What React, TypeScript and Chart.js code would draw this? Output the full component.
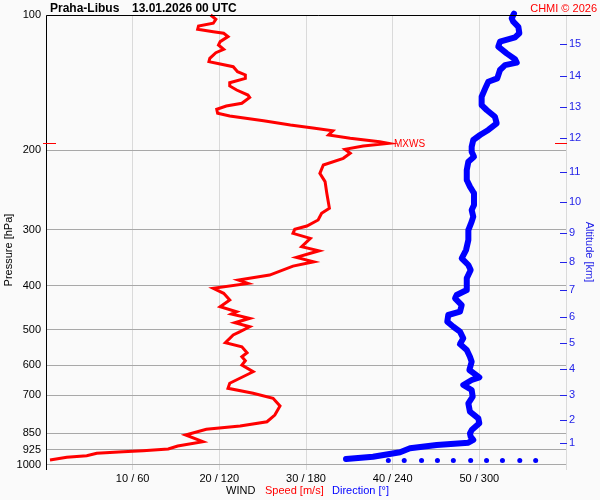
import React, { useEffect, useRef } from 'react';
import { Chart, registerables } from 'chart.js';

Chart.register(...registerables);

const FONT = '"Liberation Sans", Arial, Helvetica, sans-serif';

const stationName = 'Praha-Libus';
const launchTime = '13.01.2026 00 UTC';
const copyright = 'CHMI © 2026';
const leftTitle = 'Pressure [hPa]';
const rightTitle = 'Altitude [km]';
const bottomTitleParts = ['WIND', 'Speed [m/s]', 'Direction [°]'];

const pressureTicks = [100, 200, 300, 400, 500, 600, 700, 850, 925, 1000];
const speedTicks = [0, 10, 20, 30, 40, 50, 60];
const speedTickLabels = ['', '10 / 60', '20 / 120', '30 / 180', '40 / 240', '50 / 300', ''];
const altitudeKm = [1, 2, 3, 4, 5, 6, 7, 8, 9, 10, 11, 12, 13, 14, 15];
const altitudePressure = [895, 794, 699, 612, 536, 468, 408.5, 353.4, 304.7, 260.3, 222.9, 187.7, 160.4, 136.4, 116.2];

// Wind speed profile [m/s] vs pressure [hPa]
const speedPressure = [
  100, 102.2, 104.3, 105.8, 107.6, 108.9, 109.8, 111.7, 114.6, 116.6,
  119.2, 121.3, 124.8, 127.0, 128.5, 130.3, 133.7, 135.9, 138.3, 141.4,
  143.8, 146.8, 150.6, 152.4, 157.1, 159.3, 162.0, 165.4, 167.7, 171.8,
  175.6, 178.3, 180.8, 184.8, 187.9, 191.3, 192.9, 195.5, 198.8, 202.9,
  208.2, 215.4, 224.8, 234.6, 248.9, 268.9, 275.9, 285.5, 294.4, 299.5,
  305.7, 313.6, 327.4, 334.2, 345.6, 353.5, 361.4, 378.4, 388.2, 394.8,
  405.0, 415.5, 429.9, 444.9, 456.4, 461.8, 472.1, 482.9, 492.9, 505.6,
  514.2, 534.9, 546.0, 563.0, 574.6, 586.5, 599.6, 620.5, 658.3, 675.5,
  693.0, 711.0, 739.6, 774.4, 801.4, 819.2, 833.2, 857.7, 887.7, 907.6,
  921.3, 929.4, 934.2, 941.9, 953.4, 961.3, 974.8,
];
const speedValues = [
  19.0, 19.6, 19.3, 17.6, 17.5, 19.3, 20.5, 21.0, 20.1, 19.9,
  20.5, 19.6, 18.9, 18.8, 20.1, 21.6, 22.1, 23.0, 23.0, 21.2,
  21.2, 22.0, 23.3, 23.5, 22.6, 20.8, 19.7, 19.8, 21.2, 25.1,
  28.2, 30.8, 33.1, 32.6, 35.1, 38.5, 39.5, 36.6, 34.5, 35.1,
  34.3, 32.0, 31.6, 32.2, 32.4, 32.7, 31.8, 31.4, 30.1, 28.7,
  28.5, 30.5, 29.5, 31.5, 28.9, 30.9, 28.5, 25.8, 22.2, 23.3,
  19.3, 20.5, 21.2, 20.1, 22.0, 21.4, 23.5, 21.8, 23.5, 22.4,
  21.6, 20.7, 22.6, 23.2, 22.6, 23.0, 22.6, 23.9, 21.2, 21.0,
  23.9, 26.2, 27.0, 26.4, 25.5, 22.4, 18.5, 16.1, 18.1, 15.2,
  14.1, 11.2, 8.9, 5.85, 4.7, 2.4, 0.46,
];

// Wind direction profile [deg] vs pressure [hPa]
const dirPressure = [
  99.3, 101.7, 103.5, 106.2, 109.8, 112.1, 114.6, 117.6, 121.7, 125.4,
  127.6, 129.2, 132.5, 138.3, 140.7, 144.3, 151.9, 158.5, 162.6, 168.3,
  174.1, 180.1, 184.8, 189.6, 196.2, 201.3, 206.5, 211.8, 221.0, 232.6,
  240.7, 248.9, 264.4, 271.3, 280.7, 288.0, 300.5, 316.2, 332.9, 347.3,
  359.4, 368.7, 384.7, 408.5, 419.1, 426.3, 441.2, 456.4, 464.2, 480.3,
  492.9, 505.6, 523.0, 538.5, 555.3, 574.6, 589.5, 615.1, 638.5, 647.4,
  664.2, 681.4, 705.2, 729.5, 761.4, 787.5, 807.9, 836.2, 850.6, 865.4,
  879.9, 892.1, 902.7, 918.3, 937.2, 958.5, 969.8,
];
const dirValues = [
  324.0, 322.4, 323.5, 327.0, 327.7, 324.7, 314.3, 313.1, 318.9, 324.7,
  325.9, 317.8, 314.3, 312.4, 306.2, 304.6, 301.6, 301.6, 305.1, 310.8,
  312.0, 306.2, 300.5, 295.8, 294.7, 294.7, 296.3, 292.4, 291.3, 291.3,
  293.5, 296.3, 296.3, 294.7, 295.8, 294.7, 292.4, 292.4, 290.8, 287.8,
  292.4, 294.0, 291.3, 291.3, 284.3, 283.2, 287.8, 286.6, 278.5, 277.8,
  282.0, 286.6, 288.9, 286.6, 291.3, 293.5, 294.7, 293.1, 300.0, 294.7,
  288.9, 294.7, 295.4, 292.4, 293.5, 299.3, 300.0, 294.7, 293.5, 294.0,
  295.8, 292.4, 270.5, 252.0, 245.1, 226.4, 207.7,
];

// Dotted row near the surface
const surfaceDotPressure = 977;
const surfaceDotDirections = [237, 248, 260, 271, 282, 294, 305, 316, 328, 339];

// Maximum wind level
const maxWindPressure = 192.9;
const maxWindLabel = 'MXWS';

const RED = '#ff0000';
const BLUE = '#0000ff';
const TICK_BLUE = '#2323e8';

const decorPlugin = {
  id: 'decor',
  beforeDraw(chart: any) {
    const ctx = chart.ctx;
    ctx.save();
    ctx.fillStyle = '#fafafa';
    ctx.fillRect(0, 0, chart.width, chart.height);
    ctx.restore();
  },
  afterDraw(chart: any) {
    const { ctx, chartArea: a, scales } = chart;
    ctx.save();
    // axis frame: left and top
    ctx.strokeStyle = '#000';
    ctx.lineWidth = 1;
    ctx.beginPath();
    const lx = Math.round(a.left) + 0.5;
    const ty = Math.round(a.top) + 0.5;
    ctx.moveTo(lx, Math.round(a.bottom));
    ctx.lineTo(lx, ty);
    ctx.lineTo(591, ty);
    ctx.stroke();

    // altitude tick marks (inside)
    ctx.strokeStyle = TICK_BLUE;
    ctx.beginPath();
    altitudePressure.forEach((p) => {
      const y = Math.round(scales.y2.getPixelForValue(p)) + 0.5;
      ctx.moveTo(a.right - 6, y);
      ctx.lineTo(a.right + 1, y);
    });
    ctx.stroke();

    // max wind marks
    const my = Math.round(scales.y.getPixelForValue(maxWindPressure)) + 0.5;
    ctx.strokeStyle = RED;
    ctx.beginPath();
    ctx.moveTo(a.left - 3, my);
    ctx.lineTo(a.left + 10, my);
    ctx.moveTo(a.right - 11, my);
    ctx.lineTo(a.right + 1, my);
    ctx.stroke();
    ctx.fillStyle = RED;
    ctx.font = `10px ${FONT}`;
    ctx.textAlign = 'left';
    ctx.textBaseline = 'middle';
    ctx.fillText(maxWindLabel, 394, my + 1);

    // header
    ctx.textBaseline = 'alphabetic';
    ctx.fillStyle = '#000';
    ctx.font = `bold 12px ${FONT}`;
    ctx.fillText(stationName, 50, 12);
    ctx.fillText(launchTime, 132, 12);
    ctx.fillStyle = RED;
    ctx.font = `11px ${FONT}`;
    ctx.textAlign = 'right';
    ctx.fillText(copyright, 597, 12);

    // bottom title
    ctx.textAlign = 'left';
    ctx.textBaseline = 'middle';
    ctx.font = `11px ${FONT}`;
    const colors = ['#000', RED, BLUE];
    const xs = [226, 265, 332];
    bottomTitleParts.forEach((t, i) => {
      ctx.fillStyle = colors[i];
      ctx.fillText(t, xs[i], 491);
    });

    // axis titles
    ctx.textAlign = 'center';
    ctx.save();
    ctx.translate(9, 250);
    ctx.rotate(-Math.PI / 2);
    ctx.fillStyle = '#000';
    ctx.fillText(leftTitle, 0, 0);
    ctx.restore();
    ctx.save();
    ctx.translate(589, 252);
    ctx.rotate(Math.PI / 2);
    ctx.fillStyle = TICK_BLUE;
    ctx.fillText(rightTitle, 0, 0);
    ctx.restore();

    ctx.restore();
  },
};

export default function App() {
  const canvasRef = useRef<HTMLCanvasElement | null>(null);

  useEffect(() => {
    const canvas = canvasRef.current;
    if (!canvas) return;
    const chart = new Chart(canvas, {
      type: 'scatter',
      data: {
        datasets: [
          {
            label: 'Direction',
            data: dirPressure.map((p, i) => ({ x: dirValues[i], y: p })),
            xAxisID: 'x2',
            yAxisID: 'y',
            showLine: true,
            borderColor: BLUE,
            backgroundColor: BLUE,
            borderWidth: 6,
            borderCapStyle: 'round',
            borderJoinStyle: 'round',
            pointRadius: 0,
            clip: false,
          } as any,
          {
            label: 'Surface',
            data: surfaceDotDirections.map((d) => ({ x: d, y: surfaceDotPressure })),
            xAxisID: 'x2',
            yAxisID: 'y',
            showLine: false,
            pointRadius: 2.5,
            pointBorderWidth: 0,
            backgroundColor: BLUE,
            borderColor: BLUE,
          } as any,
          {
            label: 'Speed',
            data: speedPressure.map((p, i) => ({ x: speedValues[i], y: p })),
            xAxisID: 'x',
            yAxisID: 'y',
            showLine: true,
            borderColor: RED,
            backgroundColor: RED,
            borderWidth: 3,
            borderJoinStyle: 'miter',
            pointRadius: 0,
            clip: false,
          } as any,
        ],
      },
      options: {
        animation: false,
        responsive: false,
        maintainAspectRatio: false,
        layout: { padding: { top: 15, left: 0, right: 0, bottom: 0 } },
        plugins: { legend: { display: false }, tooltip: { enabled: false }, title: { display: false } },
        scales: {
          x: {
            type: 'linear',
            position: 'bottom',
            min: 0,
            max: 60,
            afterBuildTicks: (s: any) => {
              s.ticks = speedTicks.map((v) => ({ value: v }));
            },
            afterFit: (s: any) => {
              s.height = 30;
            },
            ticks: {
              autoSkip: false,
              maxRotation: 0,
              padding: 2,
              color: '#000',
              font: { family: FONT, size: 11 },
              callback: (_v: any, i: number) => speedTickLabels[i] ?? '',
            },
            grid: {
              drawTicks: false,
              color: (c: any) => (c.tick && c.tick.value === 0 ? 'rgba(0,0,0,0)' : '#dadada'),
            },
            border: { display: false },
          },
          x2: { type: 'linear', display: false, min: 0, max: 360 },
          y: {
            type: 'logarithmic',
            position: 'left',
            reverse: true,
            min: 100,
            max: 1026,
            afterBuildTicks: (s: any) => {
              s.ticks = pressureTicks.map((v) => ({ value: v }));
            },
            afterFit: (s: any) => {
              s.width = 46;
            },
            ticks: {
              autoSkip: false,
              padding: 5,
              color: '#000',
              font: { family: FONT, size: 11 },
              callback: (_v: any, i: number) => String(pressureTicks[i]),
            },
            grid: { drawTicks: false, color: '#a8a8a8' },
            border: { display: false },
          },
          y2: {
            type: 'logarithmic',
            position: 'right',
            reverse: true,
            min: 100,
            max: 1026,
            afterBuildTicks: (s: any) => {
              s.ticks = altitudePressure.map((v) => ({ value: v }));
            },
            afterFit: (s: any) => {
              s.width = 34;
            },
            ticks: {
              autoSkip: false,
              padding: 3,
              color: TICK_BLUE,
              font: { family: FONT, size: 11 },
              callback: (_v: any, i: number) => String(altitudeKm[i]),
            },
            grid: { drawTicks: false, drawOnChartArea: false },
            border: { display: false },
          },
        },
      } as any,
      plugins: [decorPlugin],
    });
    return () => chart.destroy();
  }, []);

  return (
    <div style={{ position: 'absolute', left: 0, top: 0, width: 600, height: 500 }}>
      <canvas ref={canvasRef} width={600} height={500} style={{ display: 'block', width: 600, height: 500 }} />
    </div>
  );
}
